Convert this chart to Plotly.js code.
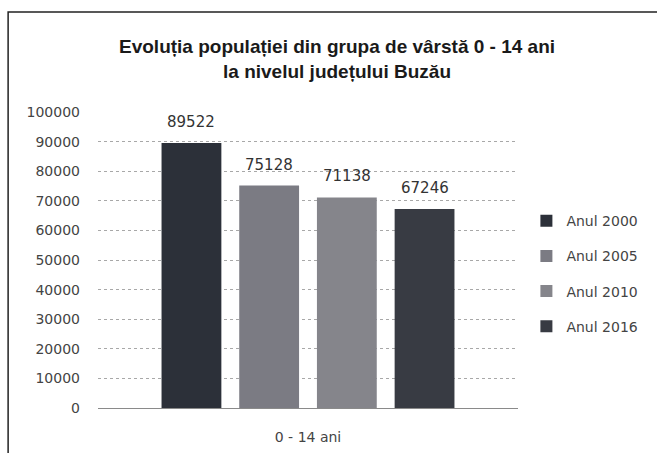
<!DOCTYPE html>
<html>
<head>
<meta charset="utf-8">
<script src="https://cdn.plot.ly/plotly-3.0.1.min.js"></script>
<style>
  html, body { margin: 0; padding: 0; background: #fff; }
  #chart { width: 657px; height: 453px; }
</style>
</head>
<body>
<div id="chart"></div>
<script>
const categories = ["0 - 14 ani"];
const seriesNames = ["Anul 2000", "Anul 2005", "Anul 2010", "Anul 2016"];
const values2000 = [89522];
const values2005 = [75128];
const values2010 = [71138];
const values2016 = [67246];
const yTicks = [0, 10000, 20000, 30000, 40000, 50000, 60000, 70000, 80000, 90000, 100000];

const seriesValues = [values2000, values2005, values2010, values2016];
const colors = ["#2c3039", "#7b7b83", "#85858b", "#383b43"];

const plotW = 420;
const bargap = 0.26;
const slotPx = plotW * (1 - bargap) / seriesNames.length;

const traces = seriesNames.map((name, i) => ({
  type: "bar",
  name: name,
  x: categories,
  y: seriesValues[i],
  marker: { color: colors[i] },
  legendgroup: "g" + i,
  hoverinfo: "skip"
}));

const annotations = [];
seriesValues.forEach((vals, i) => {
  vals.forEach((v, j) => {
    annotations.push({
      xref: "x", yref: "y",
      x: categories[j], y: v,
      text: String(v),
      showarrow: false,
      xanchor: "center", yanchor: "bottom",
      xshift: (i - (seriesNames.length - 1) / 2) * slotPx,
      yshift: 10,
      font: { family: "DejaVu Sans, sans-serif", size: 15, color: "#333" }
    });
  });
});

const layout = {
  width: 657,
  height: 453,
  margin: { l: 98, r: 139, t: 112, b: 45, autoexpand: false },
  paper_bgcolor: "#fff",
  plot_bgcolor: "#fff",
  title: {
    text: "Evoluția populației din grupa de vârstă 0 - 14 ani<br>la nivelul județului Buzău",
    font: { family: "Liberation Sans, sans-serif", size: 19, color: "#1a1a1a", weight: "bold" },
    x: 0.513, xanchor: "center",
    y: 0.883, yanchor: "middle"
  },
  barmode: "group",
  bargap: bargap,
  bargroupgap: 0.23,
  showlegend: true,
  legend: {
    x: 1.02, xanchor: "left",
    y: 0.454, yanchor: "middle",
    font: { family: "DejaVu Sans, sans-serif", size: 14, color: "#444" },
    tracegroupgap: 14,
    traceorder: "grouped",
    itemwidth: 30
  },
  xaxis: {
    type: "category",
    showgrid: false,
    showline: false,
    zeroline: false,
    ticks: "",
    ticklabelstandoff: 19,
    tickfont: { family: "DejaVu Sans, sans-serif", size: 14, color: "#444" }
  },
  yaxis: {
    range: [0, 100000],
    tickvals: yTicks,
    ticktext: yTicks.map(v => String(v)),
    showgrid: true,
    gridcolor: "#a8a8a8",
    griddash: "dot",
    gridwidth: 1,
    zeroline: true,
    zerolinecolor: "#8a8a8a",
    zerolinewidth: 1,
    showline: false,
    ticks: "",
    ticklabelstandoff: 17,
    tickfont: { family: "DejaVu Sans, sans-serif", size: 14, color: "#444" }
  },
  annotations: annotations,
  shapes: [{
    type: "rect",
    xref: "paper", yref: "paper",
    x0: -0.214, x1: 1.36, y0: -0.2, y1: 1.338,
    line: { color: "#222", width: 1.5 },
    layer: "above"
  }]
};

Plotly.newPlot("chart", traces, layout, { displayModeBar: false, staticPlot: true });
</script>
</body>
</html>
